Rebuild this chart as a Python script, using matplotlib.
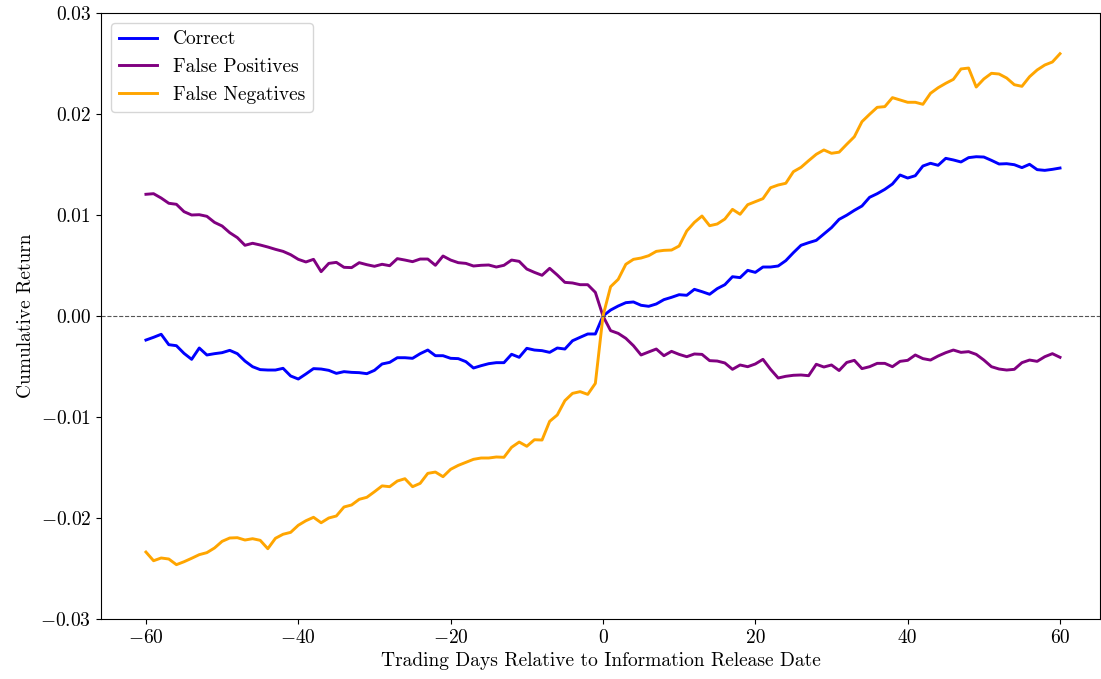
import matplotlib
matplotlib.use("Agg")
import matplotlib.pyplot as plt
import numpy as np

plt.rcParams['font.family'] = 'serif'
plt.rcParams['font.serif'] = ['cmr10']
plt.rcParams['mathtext.fontset'] = 'cm'
plt.rcParams['axes.formatter.use_mathtext'] = True
plt.rcParams['axes.unicode_minus'] = True

days = np.arange(-60, 61)

correct = [
    -0.00238, -0.00211, -0.00181, -0.00284, -0.00294, -0.00370, -0.00429, -0.00317, -0.00386, -0.00373,
    -0.00363, -0.00340, -0.00373, -0.00446, -0.00502, -0.00531, -0.00535, -0.00535, -0.00518, -0.00594,
    -0.00624, -0.00574, -0.00521, -0.00525, -0.00538, -0.00568, -0.00551, -0.00558, -0.00561, -0.00571,
    -0.00538, -0.00475, -0.00459, -0.00413, -0.00413, -0.00419, -0.00373, -0.00337, -0.00393, -0.00393,
    -0.00419, -0.00422, -0.00452, -0.00515, -0.00492, -0.00472, -0.00462, -0.00462, -0.00379, -0.00409,
    -0.00320, -0.00337, -0.00343, -0.00360, -0.00317, -0.00327, -0.00245, -0.00211, -0.00178, -0.00178,
    0.00000,
    0.00059, 0.00099, 0.00132, 0.00139, 0.00106, 0.00096, 0.00119, 0.00162, 0.00185, 0.00211,
    0.00205, 0.00264, 0.00241, 0.00215, 0.00271, 0.00310, 0.00389, 0.00380, 0.00452, 0.00432,
    0.00485, 0.00485, 0.00495, 0.00548, 0.00627, 0.00700, 0.00726, 0.00749, 0.00812, 0.00875,
    0.00957, 0.00998, 0.01046, 0.01089, 0.01175, 0.01211, 0.01254, 0.01307, 0.01396, 0.01366,
    0.01389, 0.01485, 0.01512, 0.01492, 0.01561, 0.01545, 0.01525, 0.01568, 0.01577, 0.01574,
    0.01541, 0.01505, 0.01508, 0.01498, 0.01469, 0.01502, 0.01449, 0.01442, 0.01452, 0.01465,
]

false_pos = [
    0.01205, 0.01211, 0.01168, 0.01116, 0.01106, 0.01033, 0.01000, 0.01003, 0.00987, 0.00927,
    0.00891, 0.00825, 0.00776, 0.00700, 0.00720, 0.00703, 0.00683, 0.00660, 0.00640, 0.00607,
    0.00561, 0.00535, 0.00561, 0.00439, 0.00521, 0.00531, 0.00482, 0.00479, 0.00528, 0.00508,
    0.00492, 0.00512, 0.00498, 0.00568, 0.00554, 0.00538, 0.00564, 0.00564, 0.00502, 0.00594,
    0.00554, 0.00528, 0.00521, 0.00495, 0.00502, 0.00505, 0.00485, 0.00502, 0.00554, 0.00541,
    0.00465, 0.00432, 0.00403, 0.00472, 0.00406, 0.00333, 0.00327, 0.00310, 0.00310, 0.00234,
    0.00000,
    -0.00145, -0.00172, -0.00221, -0.00294, -0.00386, -0.00356, -0.00327, -0.00393, -0.00350, -0.00380,
    -0.00403, -0.00376, -0.00380, -0.00442, -0.00446, -0.00465, -0.00528, -0.00485, -0.00502, -0.00475,
    -0.00429, -0.00528, -0.00614, -0.00597, -0.00587, -0.00584, -0.00591, -0.00478, -0.00505, -0.00485,
    -0.00540, -0.00460, -0.00439, -0.00521, -0.00502, -0.00469, -0.00469, -0.00502, -0.00449, -0.00439,
    -0.00386, -0.00422, -0.00436, -0.00396, -0.00363, -0.00337, -0.00360, -0.00353, -0.00380, -0.00436,
    -0.00502, -0.00525, -0.00535, -0.00528, -0.00462, -0.00436, -0.00449, -0.00403, -0.00373, -0.00409,
]

false_neg = [
    -0.02337, -0.02423, -0.02396, -0.02406, -0.02462, -0.02433, -0.02399, -0.02363, -0.02343, -0.02297,
    -0.02231, -0.02198, -0.02195, -0.02218, -0.02205, -0.02221, -0.02304, -0.02201, -0.02161, -0.02142,
    -0.02072, -0.02027, -0.01993, -0.02047, -0.02000, -0.01980, -0.01891, -0.01871, -0.01815, -0.01795,
    -0.01740, -0.01682, -0.01690, -0.01634, -0.01611, -0.01690, -0.01657, -0.01558, -0.01545, -0.01591,
    -0.01518, -0.01479, -0.01449, -0.01419, -0.01406, -0.01406, -0.01396, -0.01399, -0.01300, -0.01248,
    -0.01290, -0.01225, -0.01228, -0.01043, -0.00980, -0.00838, -0.00766, -0.00749, -0.00776, -0.00667,
    0.00000,
    0.00290, 0.00363, 0.00512, 0.00561, 0.00574, 0.00597, 0.00640, 0.00650, 0.00653, 0.00693,
    0.00842, 0.00927, 0.00990, 0.00894, 0.00911, 0.00960, 0.01056, 0.01007, 0.01102, 0.01132,
    0.01162, 0.01270, 0.01297, 0.01314, 0.01429, 0.01472, 0.01538, 0.01601, 0.01644, 0.01611,
    0.01622, 0.01700, 0.01775, 0.01924, 0.01997, 0.02066, 0.02073, 0.02162, 0.02139, 0.02116,
    0.02116, 0.02096, 0.02205, 0.02260, 0.02304, 0.02343, 0.02446, 0.02455, 0.02267, 0.02347,
    0.02403, 0.02396, 0.02356, 0.02290, 0.02274, 0.02369, 0.02436, 0.02485, 0.02515, 0.02597,
]

fig = plt.figure(figsize=(11.01, 6.79), dpi=100)
ax = fig.add_axes([101 / 1101, 1 - 619 / 679, 999 / 1101, 606 / 679])

ax.plot(days, correct, color='blue', lw=2.1, label='Correct')
ax.plot(days, false_pos, color='purple', lw=2.1, label='False Positives')
ax.plot(days, false_neg, color='orange', lw=2.1, label='False Negatives')
ax.axhline(0, color='#555555', ls='--', lw=0.8)

ax.set_xlim(-65.9, 65.25)
ax.set_ylim(-0.03, 0.03)
ax.set_xticks([-60, -40, -20, 0, 20, 40, 60])
ax.set_yticks([-0.03, -0.02, -0.01, 0.0, 0.01, 0.02, 0.03])
ax.yaxis.set_major_formatter(matplotlib.ticker.FuncFormatter(
    lambda v, p: ('$-$' if v < -1e-9 else '') + f'{abs(v):.2f}'))
ax.xaxis.set_major_formatter(matplotlib.ticker.FuncFormatter(
    lambda v, p: ('$-$' if v < 0 else '') + f'{abs(int(v))}'))
ax.tick_params(labelsize=14)

ax.set_xlabel('Trading Days Relative to Information Release Date', fontsize=14)
ax.set_ylabel('Cumulative Return', fontsize=14)
ax.legend(loc='upper left', fontsize=14)

fig.savefig('out.png', dpi=100)
